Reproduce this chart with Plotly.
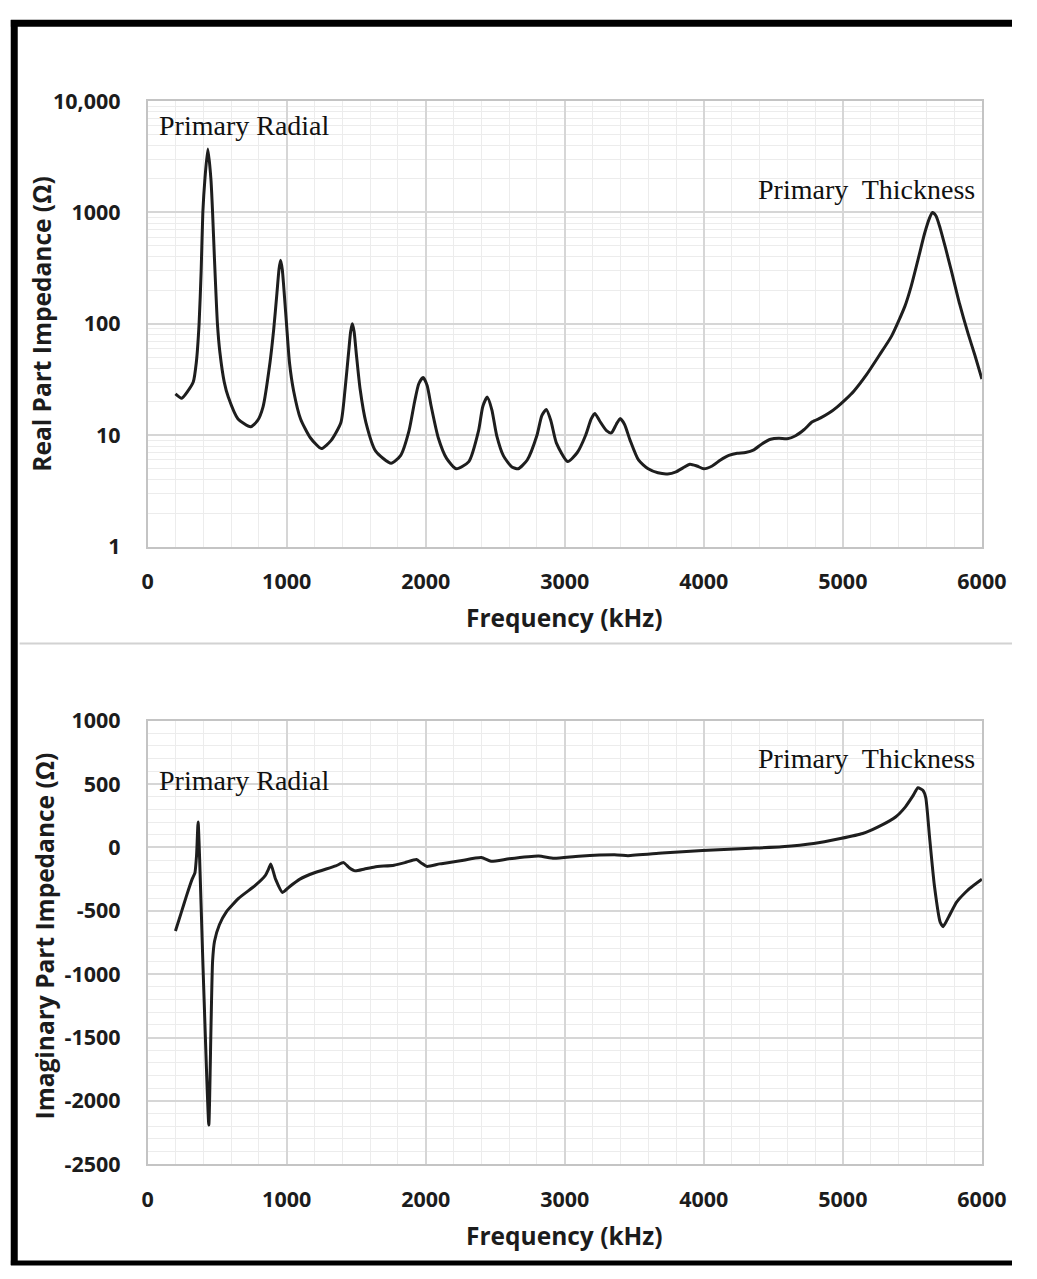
import plotly.graph_objects as go

# Real part of impedance (ohm) vs frequency (kHz)
real_freq = [200, 245, 290, 328, 350, 370, 385, 397, 412, 433, 455, 467, 480, 502, 520,
             551, 580, 650, 740, 790, 830, 880, 907, 930, 945, 956, 968, 985, 1000, 1020,
             1050, 1100, 1170, 1249, 1320, 1390, 1420, 1445, 1460, 1472, 1485, 1500, 1528,
             1570, 1640, 1751, 1820, 1880, 1920, 1950, 1981, 2010, 2040, 2090, 2150, 2220,
             2310, 2380, 2410, 2442, 2475, 2510, 2560, 2620, 2665, 2730, 2800, 2835, 2867,
             2900, 2940, 3021, 3090, 3150, 3190, 3216, 3250, 3300, 3335, 3370, 3398, 3430,
             3470, 3530, 3600, 3670, 3740, 3800, 3850, 3900, 3950, 4000, 4060, 4120, 4180,
             4240, 4300, 4360, 4420, 4480, 4540, 4600, 4660, 4720, 4780, 4840, 4900, 4960,
             5020, 5080, 5170, 5261, 5351, 5447, 5491, 5540, 5588, 5623, 5644, 5670, 5700,
             5740, 5780, 5840, 5900, 5950, 6000]
real_ohm = [23.5, 21.5, 25, 30, 45, 100, 300, 1000, 2000, 3700, 2000, 1000, 400, 100, 55,
            30, 22, 14, 11.9, 13.5, 18, 45, 90, 190, 310, 373, 310, 170, 95, 45,
            25, 14, 9.5, 7.6, 9, 13, 26, 55, 85, 100, 85, 55, 26,
            13, 7.2, 5.6, 6.6, 11, 20, 29, 33, 28, 18, 9.5, 6.2, 5.0,
            5.8, 11, 18, 22, 17, 10, 6.5, 5.2, 5.0, 6.0, 10, 15, 17,
            13.5, 8.5, 5.8, 7.0, 10, 14, 15.7, 13.5, 11, 10.5, 12.5, 14.1, 12.5,
            9, 6.0, 5.0, 4.6, 4.5, 4.7, 5.1, 5.5, 5.3, 5.0, 5.3, 6.0, 6.6,
            6.9, 7.0, 7.4, 8.4, 9.2, 9.4, 9.3, 9.9, 11.2, 13.2, 14.3, 15.8, 18,
            21, 25, 35, 52, 78, 145, 217, 375, 650, 890, 1000, 930, 720,
            470, 300, 150, 82, 52, 32]

# Imaginary part of impedance (ohm) vs frequency (kHz)
imag_freq = [200, 240, 280, 320, 340, 352, 363, 400, 440, 455, 467, 481, 516, 565, 656,
             774, 844, 870, 886, 920, 970, 1020, 1095, 1200, 1353, 1409, 1450, 1493, 1560,
             1633, 1772, 1850, 1933, 1970, 2009, 2100, 2250, 2400, 2470, 2600, 2812, 2923,
             3100, 3377, 3454, 3700, 3991, 4300, 4560, 4790, 4982, 5142, 5250, 5379, 5450,
             5500, 5540, 5575, 5596, 5623, 5658, 5700, 5721, 5760, 5819, 5910, 6000]
imag_ohm = [-660, -520, -380, -250, -200, -60, 200, -1000, -2190, -1450, -900, -740, -610, -510, -400,
            -300, -225, -170, -131, -250, -355, -310, -250, -200, -146, -120, -160, -185, -170,
            -154, -140, -120, -95, -125, -150, -130, -105, -80, -110, -90, -68, -86,
            -70, -59, -65, -45, -24, -8, 5, 30, 70, 110, 160, 240, 320,
            400, 470, 450, 393, 85, -300, -590, -625, -550, -430, -325, -250]

freq_ticks = [0, 1000, 2000, 3000, 4000, 5000, 6000]
real_ticks = [1, 10, 100, 1000, 10000]
real_tick_text = ["1", "10", "100", "1000", "10,000"]
imag_ticks = [-2500, -2000, -1500, -1000, -500, 0, 500, 1000]
imag_tick_text = ["-2500", "-2000", "-1500", "-1000", "-500", "0", "500", "1000"]

W, H = 1037, 1279
TICK_FONT = dict(family="Open Sans", size=21.5, color="#1c1c1c", weight="bold")
TITLE_FONT = dict(family="Open Sans", size=24.5, color="#1c1c1c")
NOTE_FONT = dict(family="Liberation Serif", size=28, color="#111111")
MAJOR_GRID = "#d6d6d6"
MINOR_GRID = "#ececec"
BOX = "#c4c4c4"
CURVE = "#1e1e1e"


def px_x(p):
    return p / W


def px_y(p):
    return 1 - p / H


xdom = [px_x(146), px_x(1006)]
top_dom = [px_y(544), px_y(88)]
bot_dom = [px_y(1176), px_y(722)]

fig = go.Figure()
fig.add_trace(go.Scatter(x=real_freq, y=real_ohm, mode="lines", xaxis="x", yaxis="y",
                         line=dict(color=CURVE, width=3, shape="spline", smoothing=0.6),
                         showlegend=False))
fig.add_trace(go.Scatter(x=imag_freq, y=imag_ohm, mode="lines", xaxis="x2", yaxis="y2",
                         line=dict(color=CURVE, width=3, shape="spline", smoothing=0.5),
                         showlegend=False))

minor_log = [m * 10 ** d for d in range(0, 4) for m in range(2, 10)]

common_x = dict(range=[0, 6000], tickvals=freq_ticks, ticks="", showline=True, linecolor=BOX,
                linewidth=1.5, mirror=True, showgrid=True, gridcolor=MAJOR_GRID, gridwidth=1.5,
                zeroline=False, tickfont=TICK_FONT, ticklabelstandoff=15,
                minor=dict(dtick=200, showgrid=True, gridcolor=MINOR_GRID, gridwidth=1))

fig.update_layout(
    width=W, height=H, autosize=False,
    margin=dict(l=0, r=0, t=0, b=0),
    paper_bgcolor="white", plot_bgcolor="white",
    xaxis=dict(domain=xdom, anchor="y", **common_x),
    yaxis=dict(domain=top_dom, anchor="x", type="log", range=[0, 4], tickvals=real_ticks,
               ticktext=real_tick_text, ticks="", showline=True, linecolor=BOX, linewidth=1.5,
               mirror=True, showgrid=True, gridcolor=MAJOR_GRID, gridwidth=1.5,
               tickfont=TICK_FONT, ticklabelstandoff=21,
               minor=dict(tickvals=minor_log, showgrid=True, gridcolor=MINOR_GRID, gridwidth=1)),
    xaxis2=dict(domain=xdom, anchor="y2", **common_x),
    yaxis2=dict(domain=bot_dom, anchor="x2", range=[-2500, 1000], tickvals=imag_ticks,
                ticktext=imag_tick_text, ticks="",
                showline=True, linecolor=BOX, linewidth=1.5, mirror=True, showgrid=True,
                gridcolor=MAJOR_GRID, gridwidth=1.5, zeroline=False, tickfont=TICK_FONT,
                ticklabelstandoff=21,
                minor=dict(dtick=100, showgrid=True, gridcolor=MINOR_GRID, gridwidth=1)),
)

annotations = [
    # axis titles
    dict(text="<b>Frequency (kHz)</b>", x=px_x(576), y=px_y(616), font=TITLE_FONT),
    dict(text="<b>Frequency (kHz)</b>", x=px_x(576), y=px_y(1249), font=TITLE_FONT),
    dict(text="<b>Real Part Impedance (Ω)</b>", x=px_x(37), y=px_y(316), textangle=-90,
         font=TITLE_FONT),
    dict(text="<b>Imaginary Part Impedance (Ω)</b>", x=px_x(40), y=px_y(942), textangle=-90,
         font=TITLE_FONT),
    # mode labels
    dict(text="Primary Radial", x=px_x(246), y=px_y(113), font=NOTE_FONT),
    dict(text="Primary  Thickness", x=px_x(887), y=px_y(179), font=NOTE_FONT),
    dict(text="Primary Radial", x=px_x(246), y=px_y(783), font=NOTE_FONT),
    dict(text="Primary  Thickness", x=px_x(887), y=px_y(761), font=NOTE_FONT),
]
for a in annotations:
    a.update(xref="paper", yref="paper", showarrow=False, xanchor="center", yanchor="middle")
fig.update_layout(annotations=annotations)

# outer frame (left, top, bottom) and panel separator
shapes = [
    dict(type="line", x0=px_x(8.5), x1=px_x(8.5), y0=px_y(5), y1=0,
         line=dict(color="#000000", width=7)),
    dict(type="line", x0=px_x(5), x1=1, y0=px_y(8.5), y1=px_y(8.5),
         line=dict(color="#000000", width=7)),
    dict(type="line", x0=px_x(5), x1=1, y0=px_y(1277), y1=px_y(1277),
         line=dict(color="#000000", width=5)),
    dict(type="line", x0=px_x(14), x1=1, y0=px_y(643), y1=px_y(643),
         line=dict(color="#d2d2d2", width=2)),
]
for s in shapes:
    s.update(xref="paper", yref="paper")
fig.update_layout(shapes=shapes)

fig.write_html("out.html")
